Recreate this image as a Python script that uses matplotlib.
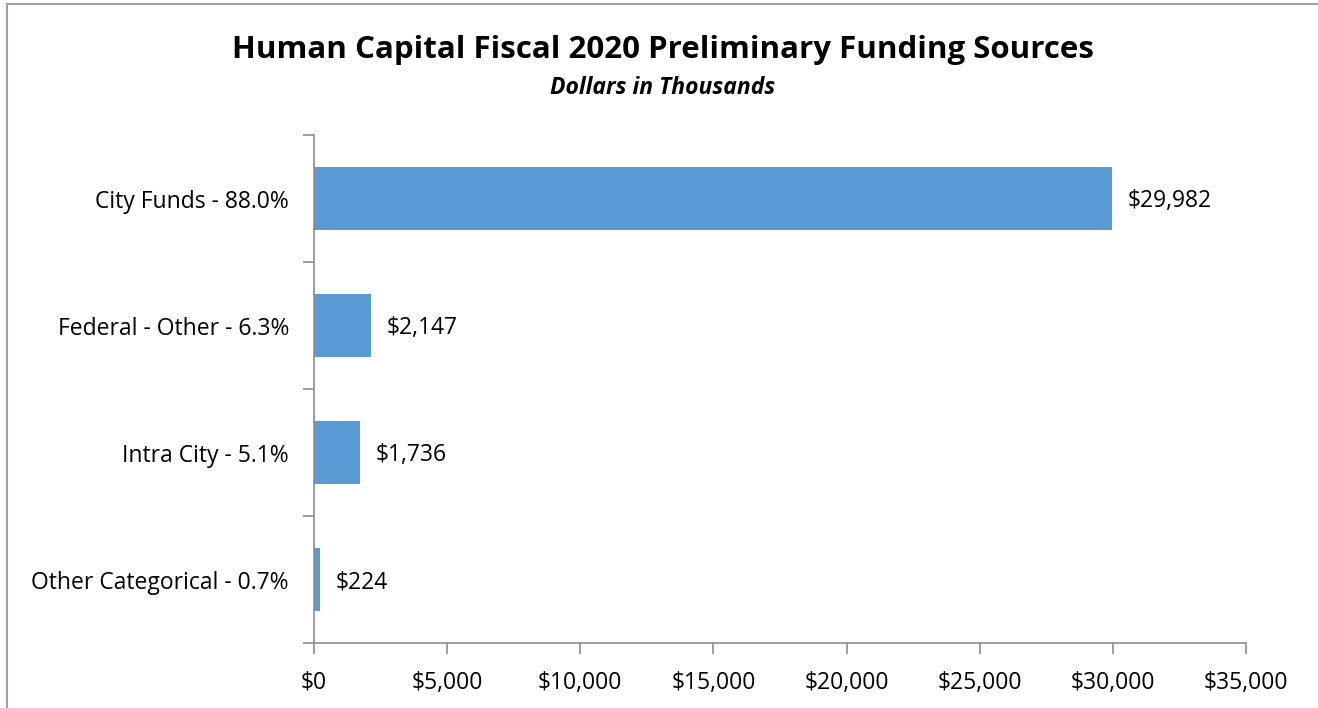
import matplotlib.pyplot as plt
from matplotlib.patches import Rectangle
from matplotlib.ticker import FuncFormatter

# funding sources, top to bottom
sources = ['City Funds - 88.0%', 'Federal - Other - 6.3%', 'Intra City - 5.1%', 'Other Categorical - 0.7%']
amounts = [29982, 2147, 1736, 224]

plt.rcParams['font.family'] = ['Open Sans', 'DejaVu Sans']
axis_grey = '#8c8c8c'
fs = 16.5

fig = plt.figure(figsize=(13.18, 7.08), dpi=100)
ax = fig.add_axes([0.2382, 0.0918, 0.7072, 0.7175])

pos = list(range(len(sources)))
ax.barh(pos, amounts, height=0.5, color='#5B9BD5')
ax.set_ylim(len(sources) - 0.5, -0.5)
ax.set_xlim(0, 35000)

for p, v in zip(pos, amounts):
    ax.annotate('${:,}'.format(v), xy=(v, p), xytext=(11, -2), textcoords='offset points',
                ha='left', va='center', fontsize=fs)

ax.set_xticks(range(0, 35001, 5000))
ax.xaxis.set_major_formatter(FuncFormatter(lambda x, _: '${:,.0f}'.format(x)))
ax.set_yticks(pos)
ax.set_yticklabels(sources)
# category boundary ticks like a spreadsheet chart
ax.set_yticks([p - 0.5 for p in pos] + [len(sources) - 0.5], minor=True)
ax.tick_params(axis='y', which='major', length=0, pad=18, labelsize=fs)
ax.tick_params(axis='y', which='minor', length=8, width=1.2, color=axis_grey)
ax.tick_params(axis='x', length=8, width=1.2, color=axis_grey, labelsize=fs, pad=12)

for s in ['top', 'right']:
    ax.spines[s].set_visible(False)
for s in ['left', 'bottom']:
    ax.spines[s].set_color(axis_grey)
    ax.spines[s].set_linewidth(1.2)

fig.text(0.503, 0.93, 'Human Capital Fiscal 2020 Preliminary Funding Sources',
         ha='center', va='center', fontsize=22.5, fontweight='bold')
fig.text(0.503, 0.876, 'Dollars in Thousands', ha='center', va='center',
         fontsize=16.5, fontweight='bold', style='italic')

# chart area frame
fig.patches.append(Rectangle((0.0053, -0.1), 1.2, 1.0944, transform=fig.transFigure,
                             fill=False, edgecolor='#a0a0a0', linewidth=1.5))

fig.savefig('out.png', dpi=100)
